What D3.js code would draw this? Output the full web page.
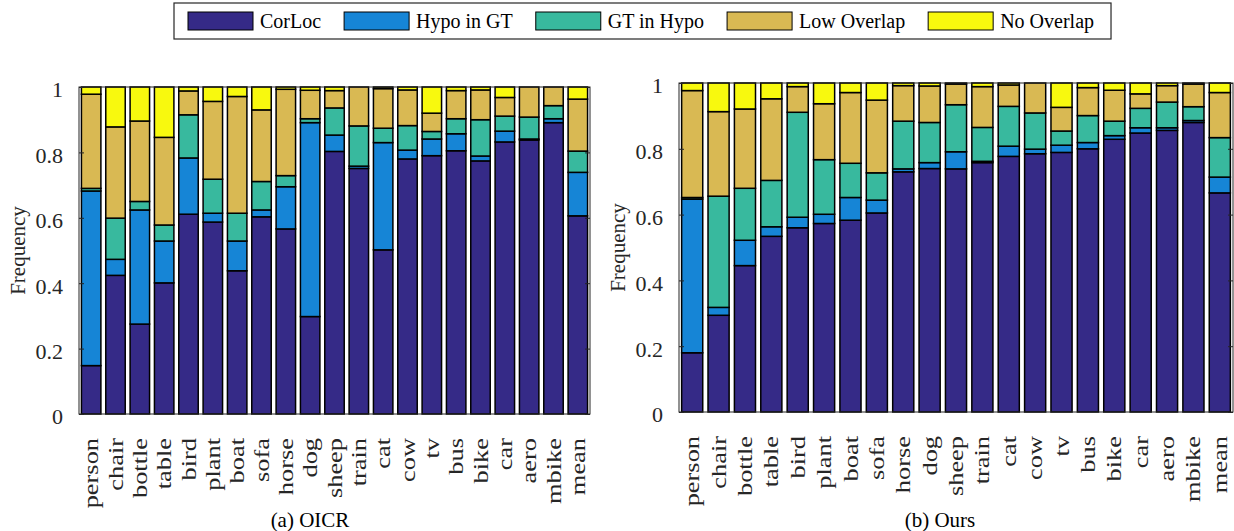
<!DOCTYPE html>
<html>
<head>
<meta charset="utf-8">
<script src="https://cdn.jsdelivr.net/npm/d3@7"></script>
<style>
    body { margin: 0; background: #fff; }
    svg { display: block; }
    svg text { font-family: "Liberation Serif", "DejaVu Serif", "Times New Roman", Times, serif !important; }
</style>
</head>
<body>
<svg id="chart" width="1234" height="531"></svg>
<script>
const categories = ["person", "chair", "bottle", "table", "bird", "plant", "boat", "sofa", "horse", "dog",
    "sheep", "train", "cat", "cow", "tv", "bus", "bike", "car", "aero", "mbike", "mean"];
const seriesNames = ["CorLoc", "Hypo in GT", "GT in Hypo", "Low Overlap", "No Overlap"];
const yTicks = [0, 0.2, 0.4, 0.6, 0.8, 1];
const yTickLabels = ["0", "0.2", "0.4", "0.6", "0.8", "1"];

// (a) OICR
const oicrCorLoc   = [0.148, 0.424, 0.275, 0.401, 0.611, 0.587, 0.438, 0.603, 0.566, 0.298, 0.803, 0.751, 0.502, 0.780, 0.790, 0.805, 0.774, 0.832, 0.838, 0.891, 0.606];
const oicrHypoInGT = [0.534, 0.049, 0.349, 0.128, 0.172, 0.027, 0.091, 0.021, 0.129, 0.593, 0.050, 0.007, 0.328, 0.027, 0.051, 0.052, 0.015, 0.033, 0.003, 0.012, 0.133];
const oicrGTInHypo = [0.008, 0.126, 0.026, 0.049, 0.132, 0.104, 0.085, 0.087, 0.034, 0.012, 0.083, 0.123, 0.044, 0.075, 0.023, 0.046, 0.111, 0.046, 0.067, 0.040, 0.065];
const oicrLowOverlap = [0.288, 0.279, 0.246, 0.268, 0.073, 0.238, 0.357, 0.219, 0.264, 0.087, 0.053, 0.119, 0.121, 0.109, 0.056, 0.086, 0.091, 0.057, 0.092, 0.057, 0.159];
const oicrNoOverlap  = [0.022, 0.122, 0.104, 0.154, 0.012, 0.044, 0.029, 0.070, 0.007, 0.010, 0.011, 0.000, 0.005, 0.009, 0.080, 0.011, 0.009, 0.032, 0.000, 0.000, 0.037];

// (b) Ours
const oursCorLoc   = [0.180, 0.294, 0.445, 0.534, 0.560, 0.573, 0.583, 0.605, 0.730, 0.740, 0.739, 0.758, 0.777, 0.785, 0.789, 0.800, 0.829, 0.848, 0.856, 0.880, 0.666];
const oursHypoInGT = [0.467, 0.024, 0.077, 0.029, 0.032, 0.028, 0.069, 0.039, 0.009, 0.018, 0.052, 0.004, 0.031, 0.014, 0.022, 0.019, 0.011, 0.016, 0.008, 0.006, 0.048];
const oursGTInHypo = [0.005, 0.338, 0.158, 0.141, 0.319, 0.166, 0.104, 0.083, 0.145, 0.122, 0.143, 0.103, 0.121, 0.110, 0.043, 0.082, 0.044, 0.059, 0.078, 0.042, 0.120];
const oursLowOverlap = [0.325, 0.257, 0.241, 0.248, 0.078, 0.170, 0.215, 0.221, 0.108, 0.111, 0.063, 0.124, 0.065, 0.091, 0.072, 0.085, 0.094, 0.044, 0.050, 0.069, 0.137];
const oursNoOverlap  = [0.023, 0.087, 0.079, 0.048, 0.011, 0.063, 0.029, 0.052, 0.008, 0.009, 0.003, 0.011, 0.006, 0.000, 0.074, 0.014, 0.022, 0.033, 0.008, 0.003, 0.029];

const seriesColors = ["#352a87", "#1685d6", "#38b99e", "#d9b953", "#f8f90e"];

class StackedBarChart {

    constructor(svg, box) {
        this.Svg = svg;
        this.Box = box;
        this.X = d3.scaleBand()
            .domain(categories)
            .range([box.left, box.right])
            .paddingInner(0.2)
            .paddingOuter(0.1);
        this.Y = d3.scaleLinear().domain([0, 1]).range([box.bottom, box.top]);
        this.Color = d3.scaleOrdinal().domain(seriesNames).range(seriesColors);
    }

    Draw(seriesValues, yLabel, caption, captionX) {
        let x = this.X, y = this.Y, box = this.Box;
        let g = this.Svg.append("g");

        let rows = categories.map((c, i) => {
            let row = {category: c};
            seriesNames.forEach((s, k) => row[s] = seriesValues[k][i]);
            return row;
        });
        let stacked = d3.stack().keys(seriesNames)(rows);

        g.append("g")
            .selectAll("g")
            .data(stacked)
            .enter().append("g")
            .attr("fill", d => this.Color(d.key))
            .selectAll("rect")
            .data(d => d)
            .enter().append("rect")
            .attr("x", d => x(d.data.category))
            .attr("y", d => y(d[1]))
            .attr("width", x.bandwidth())
            .attr("height", d => y(d[0]) - y(d[1]))
            .attr("stroke", "#000")
            .attr("stroke-width", 1.5);

        // box round the axes
        g.append("rect")
            .attr("x", box.left).attr("y", box.top)
            .attr("width", box.right - box.left).attr("height", box.bottom - box.top)
            .attr("fill", "none").attr("stroke", "#262626").attr("stroke-width", 1);

        let left = g.append("g")
            .attr("transform", `translate(${box.left},0)`)
            .call(d3.axisLeft(y).tickValues(yTicks).tickFormat((d, i) => yTickLabels[i])
                .tickSizeInner(-5).tickSizeOuter(0).tickPadding(16));
        left.select(".domain").remove();
        left.selectAll("line").attr("stroke", "#262626");
        left.selectAll("text")
            .attr("font-size", 22)
            .attr("fill", "#262626")
            .attr("dy", "0.45em");

        let right = g.append("g")
            .attr("transform", `translate(${box.right},0)`)
            .call(d3.axisRight(y).tickValues(yTicks).tickFormat("").tickSizeInner(-5).tickSizeOuter(0));
        right.select(".domain").remove();
        right.selectAll("line").attr("stroke", "#262626");

        // the rotated labels of the source are drawn a little long, hence the stretch
        let bottom = g.append("g")
            .attr("transform", `translate(0,${box.bottom})`)
            .call(d3.axisBottom(x).tickSize(0));
        bottom.select(".domain").remove();
        bottom.selectAll("text")
            .attr("font-size", 22)
            .attr("fill", "#262626")
            .attr("transform", "rotate(-90) scale(1.2,1)")
            .attr("text-anchor", "end")
            .attr("x", -20)
            .attr("y", 0)
            .attr("dy", "0.32em");

        g.append("text")
            .attr("transform", `translate(${box.left - 61},${(box.top + box.bottom) / 2}) rotate(-90)`)
            .attr("text-anchor", "middle")
            .attr("dy", "0.35em")
            .attr("font-size", 21)
            .attr("fill", "#262626")
            .text(yLabel);

        g.append("text")
            .attr("x", captionX)
            .attr("y", 527)
            .attr("text-anchor", "middle")
            .attr("font-size", 21)
            .attr("fill", "#000")
            .text(caption);
    }
}

function DrawLegend(svg) {
    let g = svg.append("g");
    let frame = g.append("rect")
        .attr("x", 174).attr("y", 3).attr("height", 36)
        .attr("fill", "#fff").attr("stroke", "#262626").attr("stroke-width", 1.2);
    let cursor = 188;
    seriesNames.forEach((name, i) => {
        g.append("rect")
            .attr("x", cursor).attr("y", 12)
            .attr("width", 65).attr("height", 18)
            .attr("fill", seriesColors[i])
            .attr("stroke", "#000").attr("stroke-width", 1);
        let t = g.append("text")
            .attr("x", cursor + 72).attr("y", 28)
            .attr("font-size", 20)
            .attr("fill", "#000")
            .text(name);
        cursor += 72 + t.node().getComputedTextLength() + (i < seriesNames.length - 1 ? 23 : 17);
    });
    frame.attr("width", cursor - 174);
}

let svg = d3.select("#chart");

new StackedBarChart(svg, {left: 79, right: 590, top: 87, bottom: 414})
    .Draw([oicrCorLoc, oicrHypoInGT, oicrGTInHypo, oicrLowOverlap, oicrNoOverlap], "Frequency", "(a) OICR", 310);

new StackedBarChart(svg, {left: 679, right: 1233, top: 83, bottom: 412})
    .Draw([oursCorLoc, oursHypoInGT, oursGTInHypo, oursLowOverlap, oursNoOverlap], "Frequency", "(b) Ours", 940);

DrawLegend(svg);
</script>
</body>
</html>
